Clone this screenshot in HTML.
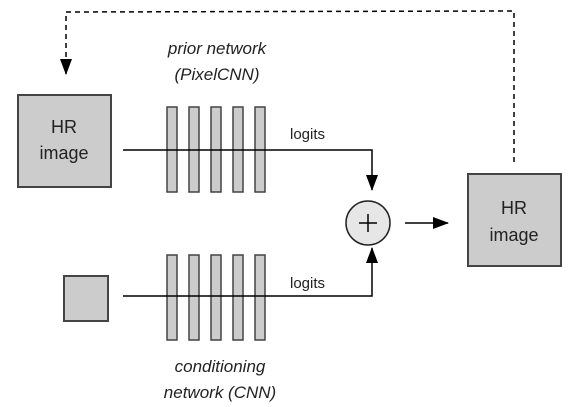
<!DOCTYPE html>
<html><head><style>
body{margin:0;background:#fff;}
svg{display:block;font-family:"Liberation Sans",Arial,sans-serif;}
</style></head><body>
<svg width="569" height="407" viewBox="0 0 569 407">
<defs>
<marker id="b" markerWidth="16" markerHeight="12" refX="15" refY="6" orient="auto" markerUnits="userSpaceOnUse"><path d="M0,0 L16,6 L0,12 z" fill="#000"/></marker></defs>
<path d="M514,162 L514,11 L66,12 L66,74" fill="none" stroke="#000" stroke-width="1.5" stroke-dasharray="5,4" marker-end="url(#b)"/>
<rect x="18" y="95" width="93" height="92" fill="#ccc" stroke="#444" stroke-width="2"/>
<text x="64" y="133" font-size="18" text-anchor="middle" fill="#222">HR</text>
<text x="64" y="159" font-size="18" text-anchor="middle" fill="#222">image</text>
<rect x="64" y="276" width="44" height="45" fill="#ccc" stroke="#444" stroke-width="2"/>
<g fill="#ccc" stroke="#444" stroke-width="1.5">
<rect x="167" y="107" width="10" height="85"/><rect x="189" y="107" width="10" height="85"/><rect x="211" y="107" width="10" height="85"/><rect x="233" y="107" width="10" height="85"/><rect x="255" y="107" width="10" height="85"/>
<rect x="167" y="255" width="10" height="85"/><rect x="189" y="255" width="10" height="85"/><rect x="211" y="255" width="10" height="85"/><rect x="233" y="255" width="10" height="85"/><rect x="255" y="255" width="10" height="85"/>
</g>
<path d="M123,150 L372,150 L372,190" fill="none" stroke="#000" stroke-width="1.5" marker-end="url(#b)"/>
<path d="M123,296 L372,296 L372,248" fill="none" stroke="#000" stroke-width="1.5" marker-end="url(#b)"/>
<text x="290" y="139" font-size="15" fill="#222">logits</text>
<text x="290" y="288" font-size="15" fill="#222">logits</text>
<circle cx="368" cy="223" r="22" fill="#e6e6e6" stroke="#222" stroke-width="1.5"/>
<path d="M359,223 H377 M368,214 V232" stroke="#000" stroke-width="1.5"/>
<path d="M405,223 L448,223" stroke="#000" stroke-width="1.5" marker-end="url(#b)"/>
<rect x="468" y="174" width="93" height="92" fill="#ccc" stroke="#444" stroke-width="2"/>
<text x="514" y="214" font-size="18" text-anchor="middle" fill="#222">HR</text>
<text x="514" y="241" font-size="18" text-anchor="middle" fill="#222">image</text>
<g font-size="17" font-style="italic" text-anchor="middle" fill="#222">
<text x="217" y="54">prior network</text>
<text x="217" y="80">(PixelCNN)</text>
<text x="220" y="372">conditioning</text>
<text x="220" y="398">network (CNN)</text>
</g>
</svg>
</body></html>
